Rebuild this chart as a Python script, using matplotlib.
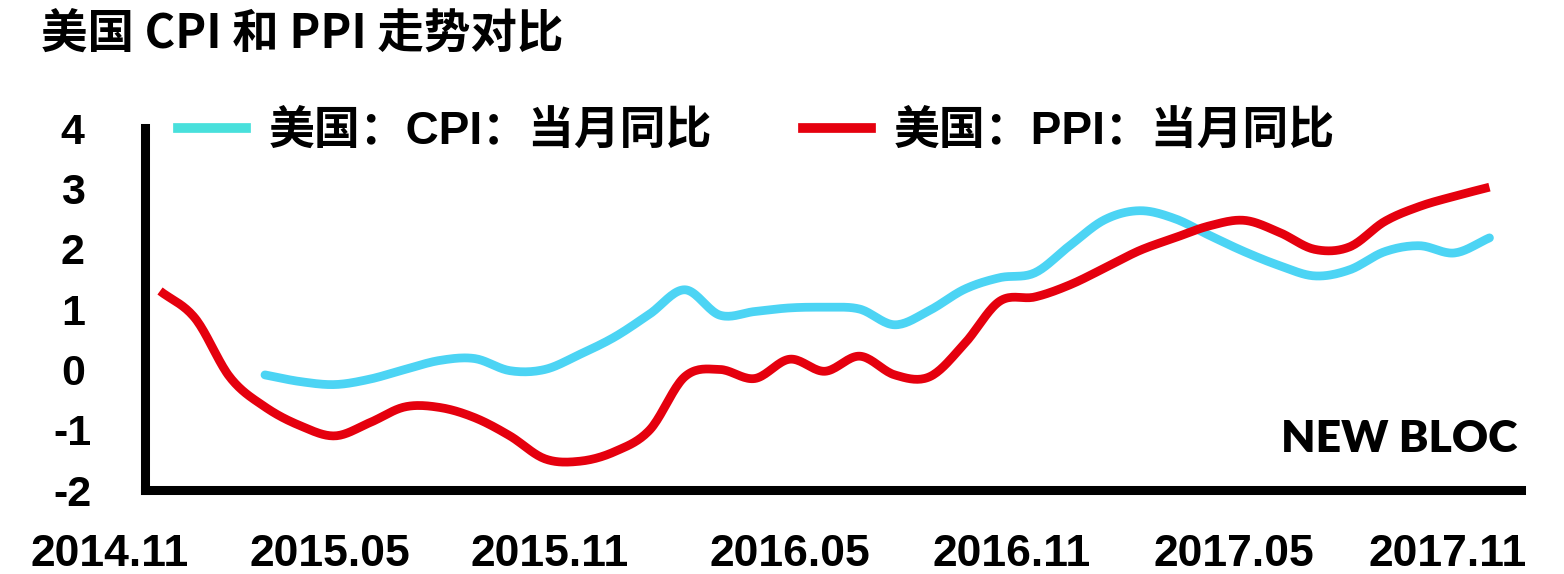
import numpy as np
import matplotlib.pyplot as plt
from matplotlib.lines import Line2D

# monthly readings, 2014.10 .. 2017.12 (x index = month number)
months = np.arange(39)
ppi = [1.30, 0.85, -0.13, -0.62, -0.93, -1.10, -0.88, -0.62, -0.63, -0.80,
       -1.10, -1.48, -1.52, -1.36, -1.00, -0.12, 0.00, -0.15, 0.17, -0.03,
       0.22, -0.09, -0.12, 0.43, 1.13, 1.20, 1.40, 1.68, 1.97, 2.18,
       2.38, 2.47, 2.27, 1.99, 2.03, 2.45, 2.70, 2.87, 3.02]
cpi = [None, None, None, -0.09, -0.20, -0.25, -0.16, 0.00, 0.15, 0.18,
       -0.02, 0.00, 0.25, 0.54, 0.92, 1.32, 0.90, 0.96, 1.02, 1.03,
       1.00, 0.74, 0.98, 1.33, 1.52, 1.60, 2.05, 2.48, 2.63, 2.50,
       2.22, 1.95, 1.72, 1.55, 1.65, 1.95, 2.05, 1.93, 2.18]
xlabels = ['2014.11', '2015.05', '2015.11', '2016.05', '2016.11', '2017.05', '2017.11']
xlabel_pos = [-1.43, 4.86, 11.14, 18.0, 24.34, 30.7, 36.8]
yticks = [-2, -1, 0, 1, 2, 3, 4]

CYAN = '#4CD4F4'
RED = '#E5000E'
NARROW = ['Liberation Sans Narrow', 'Liberation Sans', 'Noto Sans CJK SC']
CJK = ['Noto Sans CJK SC', 'DejaVu Sans']


def smooth(x, y, n=20):
    # catmull-rom style smoothing, like a spreadsheet "smoothed line"
    x = np.asarray(x, float)
    y = np.asarray(y, float)
    px = np.concatenate([[2 * x[0] - x[1]], x, [2 * x[-1] - x[-2]]])
    py = np.concatenate([[2 * y[0] - y[1]], y, [2 * y[-1] - y[-2]]])
    xs, ys = [], []
    t = np.linspace(0, 1, n, endpoint=False)
    for i in range(1, len(px) - 2):
        for p, out in ((px, xs), (py, ys)):
            p0, p1, p2, p3 = p[i - 1], p[i], p[i + 1], p[i + 2]
            out.extend(0.5 * ((2 * p1) + (-p0 + p2) * t
                              + (2 * p0 - 5 * p1 + 4 * p2 - p3) * t ** 2
                              + (-p0 + 3 * p1 - 3 * p2 + p3) * t ** 3))
    xs.append(x[-1])
    ys.append(y[-1])
    return np.array(xs), np.array(ys)


fig = plt.figure(figsize=(15.64, 5.74), dpi=100)
ax = fig.add_axes([0.0927, 0.146, 0.880, 0.631])

cm = [m for m, v in zip(months, cpi) if v is not None]
cv = [v for v in cpi if v is not None]
sx, sy = smooth(cm, cv)
ax.plot(sx, sy, color=CYAN, lw=6.3, solid_capstyle='round', solid_joinstyle='round')
sx, sy = smooth(months, ppi)
ax.plot(sx, sy, color=RED, lw=6.3, solid_capstyle='butt', solid_joinstyle='round')

ax.set_xlim(-0.43, 38.91)
ax.set_ylim(-2, 4)
for s in ['top', 'right']:
    ax.spines[s].set_visible(False)
for s in ['left', 'bottom']:
    ax.spines[s].set_linewidth(6.5)
ax.set_xticks([])
ax.set_yticks(yticks)
ax.set_yticklabels([str(v) for v in yticks], fontsize=31, fontweight='bold', family=NARROW)
for t in ax.get_yticklabels():
    t.set_horizontalalignment('center')
ax.tick_params(axis='y', length=0, pad=52)

for lab, p in zip(xlabels, xlabel_pos):
    ax.text(p, -0.178, lab, transform=ax.get_xaxis_transform(), ha='center', va='center',
            fontsize=32, fontweight='bold', family=NARROW, clip_on=False)

fig.text(0.026, 0.94, '美国 CPI 和 PPI 走势对比', fontsize=33.5, fontweight='bold',
         family=CJK, va='center', ha='left')

handles = [Line2D([], [], color='#48E0DC', lw=7), Line2D([], [], color=RED, lw=7)]
leg = fig.legend(handles, ['美国：CPI：当月同比', '美国：PPI：当月同比'], ncol=2,
                 loc='center left', bbox_to_anchor=(0.0876, 0.77), frameon=False,
                 handlelength=1.47, handletextpad=0.5, columnspacing=1.99,
                 prop={'family': NARROW, 'weight': 'bold', 'size': 33})

ax.text(0.997, 0.14, 'NEW BLOC', transform=ax.transAxes, ha='right', va='center',
        fontsize=32, fontweight='heavy', family=['Lato', 'DejaVu Sans'])

fig.savefig('out.png', dpi=100)
